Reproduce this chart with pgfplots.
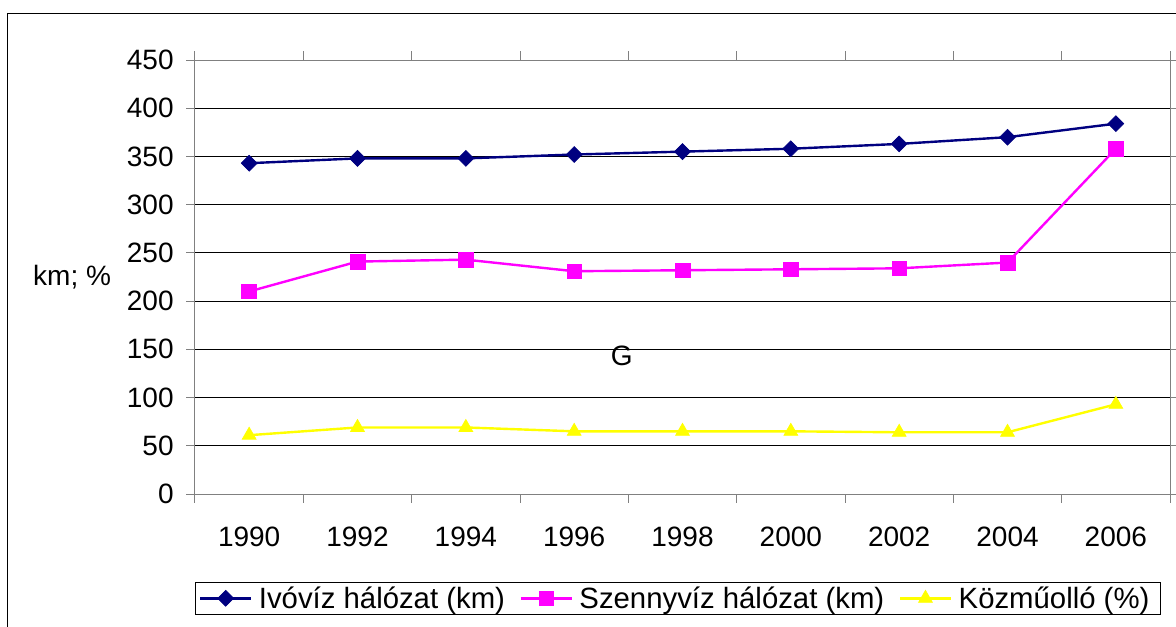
\documentclass[border=0pt]{standalone}
\usepackage{fontspec}
\setmainfont{Liberation Sans}
\usepackage{pgfplots}
\pgfplotsset{compat=1.18}

\definecolor{ivo}{RGB}{0,0,128}
\definecolor{szenny}{RGB}{255,0,255}
\definecolor{kozmu}{RGB}{255,255,0}

\begin{document}
\begin{tikzpicture}
% picture size: 1176x626 px at 0.75pt per px, axis box at (0,0)
\useasboundingbox (-146.25pt,-99pt) rectangle (735.75pt,370.5pt);
\draw[black, line width=0.75pt] (-140.25pt,-130pt) rectangle (760pt,360pt);
\begin{axis}[
    at={(0,0)}, anchor=south west,
    scale only axis,
    width=731.25pt, height=325.5pt,
    font=\fontsize{21}{25}\selectfont,
    /pgf/number format/assume math mode=true,
    xmin=-0.5, xmax=8.5,
    ymin=0, ymax=450,
    xtick={-0.5,0.5,1.5,2.5,3.5,4.5,5.5,6.5,7.5,8.5},
    x tick label as interval,
    xticklabels={1990,1992,1994,1996,1998,2000,2002,2004,2006},
    ytick={0,50,...,450},
    tick align=outside,
    major tick length=6.5pt,
    tick style={gray, line width=0.75pt},
    axis line style={gray, line width=0.75pt},
    ymajorgrids,
    major grid style={black, line width=0.75pt},
    xticklabel style={yshift=-15pt},
    yticklabel style={xshift=-6pt},
    ylabel={km; \%},
    ylabel style={rotate=-90, at={(axis description cs:-0.126,0.5)}, anchor=center},
    legend columns=3,
    legend style={
        at={(0.495,-0.2028)}, anchor=north,
        draw=black, line width=0.75pt,
        font=\fontsize{22}{26}\selectfont,
        inner xsep=3pt, inner ysep=1pt,
        nodes={inner xsep=5pt},
        /tikz/every even column/.append style={column sep=6pt},
    },
    legend image code/.code={
        \draw[mark repeat=2, mark phase=2] plot coordinates {(0pt,0pt) (19pt,0pt) (38pt,0pt)};
    },
    clip=false,
]

% Ivoviz halozat (km)
\addplot[color=ivo, line width=1.8pt, mark=square*, mark size=4.2pt,
    mark options={rotate=45, solid, line width=0.5pt}] coordinates {
    (0,343) (1,348) (2,348) (3,352) (4,355) (5,358) (6,363) (7,370) (8,384)
};

% Szennyviz halozat (km)
\addplot[color=szenny, line width=1.8pt, mark=square*, mark size=5.5pt,
    mark options={solid, line width=0.5pt}] coordinates {
    (0,210) (1,241) (2,243) (3,231) (4,232) (5,233) (6,234) (7,240) (8,358)
};

% Kozmuollo (%)
\addplot[color=kozmu, line width=1.8pt, mark=triangle*, mark size=6pt,
    mark options={solid, line width=0.5pt}] coordinates {
    (0,61) (1,69) (2,69) (3,65) (4,65) (5,65) (6,64) (7,64) (8,93)
};

\legend{Ivóvíz hálózat (km), Szennyvíz hálózat (km), Közműolló (\%)}

\node[font=\fontsize{21}{25}\selectfont] at (axis cs:3.44,143) {G};
\end{axis}
\end{tikzpicture}
\end{document}
